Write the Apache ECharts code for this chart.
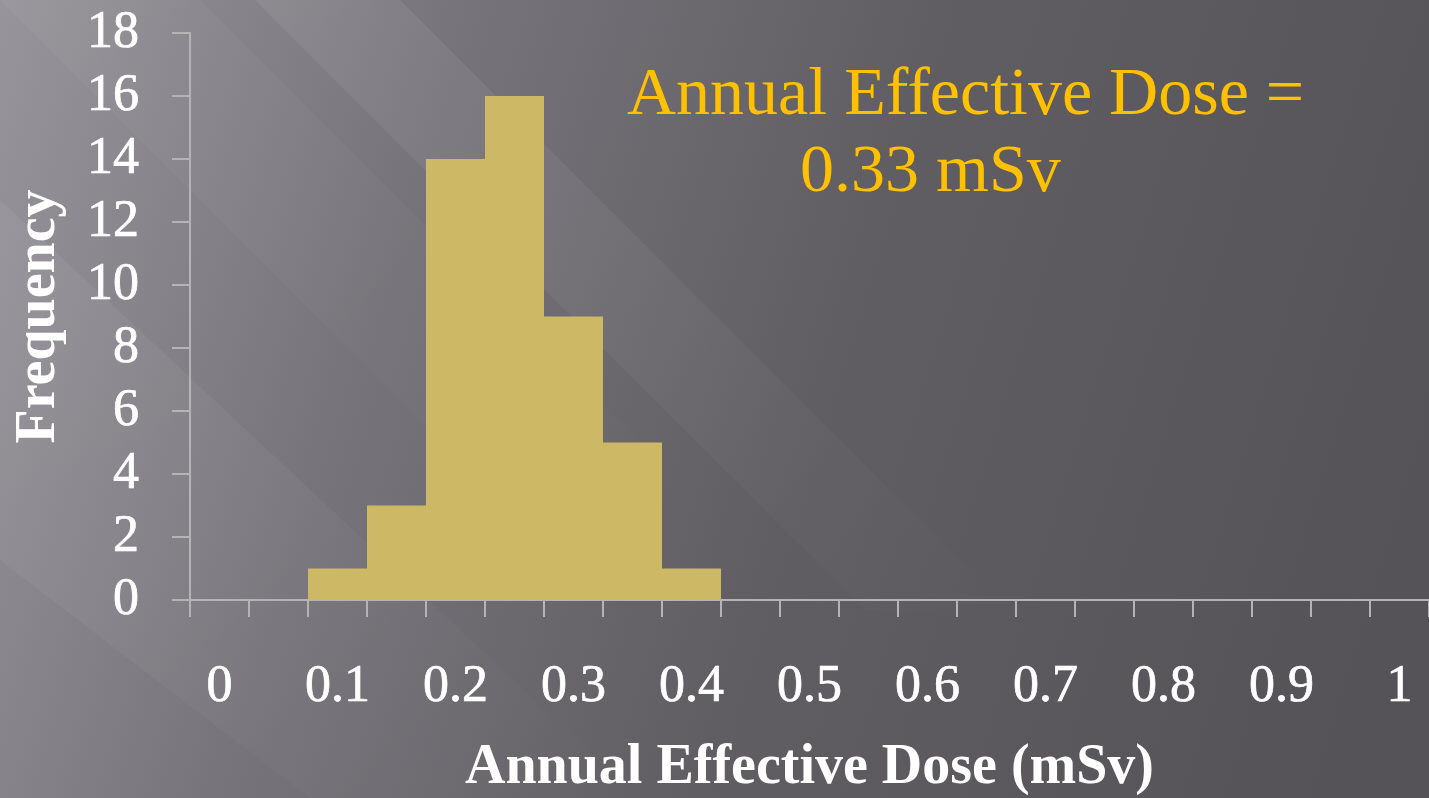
<!DOCTYPE html>
<html>
<head>
<meta charset="utf-8">
<script src="https://cdn.jsdelivr.net/npm/echarts@6/dist/echarts.min.js"></script>
<style>
  html, body { margin: 0; padding: 0; background: #5a585d; }
  #chart { width: 1429px; height: 798px; }
</style>
</head>
<body>
<div id="chart"></div>
<script>
// Dose bins (mSv), 0.05 wide
const doseBins = ['0', '0.05', '0.1', '0.15', '0.2', '0.25', '0.3', '0.35', '0.4', '0.45',
                  '0.5', '0.55', '0.6', '0.65', '0.7', '0.75', '0.8', '0.85', '0.9', '0.95', '1'];
// Number of results in each bin
const frequency = [0, 0, 1, 3, 14, 16, 9, 5, 1, 0,
                   0, 0, 0, 0, 0, 0, 0, 0, 0, 0, 0];
const yTicks = { min: 0, max: 18, step: 2 };
const annotationLines = ['Annual Effective Dose =', '0.33 mSv'];

const serif = '"Liberation Serif", "Times New Roman", serif';
const axisGray = '#b4b3b6';

const chart = echarts.init(document.getElementById('chart'), null, { renderer: 'canvas' });

// soft diagonal light streaks over the slide background
function streak(points, opacity) {
  return {
    type: 'polygon',
    silent: true,
    z: -10,
    shape: { points: points },
    style: {
      fill: {
        type: 'linear', x: 0, y: 0, x2: 1, y2: 1,
        colorStops: [
          { offset: 0, color: 'rgba(255,255,255,' + opacity + ')' },
          { offset: 0.5, color: 'rgba(255,255,255,' + (opacity * 0.6) + ')' },
          { offset: 1, color: 'rgba(255,255,255,0)' }
        ]
      }
    }
  };
}

const labelFont = {
  color: '#ffffff', fontFamily: serif, fontSize: 52,
  textBorderColor: '#ffffff', textBorderWidth: 0.7
};

chart.setOption({
  backgroundColor: {
    type: 'linear', x: 0, y: 0, x2: 1, y2: 0.55,
    colorStops: [
      { offset: 0, color: '#97949b' },
      { offset: 0.3, color: '#76737a' },
      { offset: 0.6, color: '#605e63' },
      { offset: 1, color: '#555358' }
    ]
  },
  animation: false,
  graphic: [
    streak([[255, 0], [400, 0], [1010, 610], [865, 610]], 0.07),
    streak([[0, 200], [0, 560], [310, 798], [640, 798]], 0.06),
    streak([[0, 0], [200, 0], [720, 520], [520, 520]], 0.035),
    {
      type: 'text', left: 627, top: 62, z: 10,
      style: { text: annotationLines[0], font: '68px ' + serif, fill: '#ffc000' }
    },
    {
      type: 'text', left: 800, top: 139, z: 10,
      style: { text: annotationLines[1], font: '68px ' + serif, fill: '#ffc000' }
    }
  ],
  grid: { left: 190, right: 0, top: 33, bottom: 198, containLabel: false, outerBoundsMode: 'none' },
  xAxis: {
    type: 'category',
    data: doseBins,
    boundaryGap: true,
    name: 'Annual Effective Dose (mSv)',
    nameLocation: 'middle',
    nameGap: 141,
    nameTextStyle: { color: '#ffffff', fontFamily: serif, fontWeight: 'bold', fontSize: 56 },
    axisLine: { show: true, lineStyle: { color: axisGray, width: 2 } },
    axisTick: { show: true, interval: 0, length: 17, alignWithLabel: false, lineStyle: { color: axisGray, width: 2 } },
    axisLabel: Object.assign({ interval: 1, margin: 61 }, labelFont),
    splitLine: { show: false }
  },
  yAxis: {
    type: 'value',
    min: yTicks.min,
    max: yTicks.max,
    interval: yTicks.step,
    name: 'Frequency',
    nameLocation: 'middle',
    nameGap: 122,
    nameTextStyle: { color: '#ffffff', fontFamily: serif, fontWeight: 'bold', fontSize: 56 },
    axisLine: { show: true, lineStyle: { color: axisGray, width: 2 } },
    axisTick: { show: true, length: 18, lineStyle: { color: axisGray, width: 2 } },
    axisLabel: Object.assign({ margin: 51 }, labelFont),
    splitLine: { show: false }
  },
  series: [{
    type: 'bar',
    data: frequency,
    barCategoryGap: '0%',
    barGap: '0%',
    itemStyle: { color: '#cdb866' }
  }]
});
</script>
</body>
</html>
